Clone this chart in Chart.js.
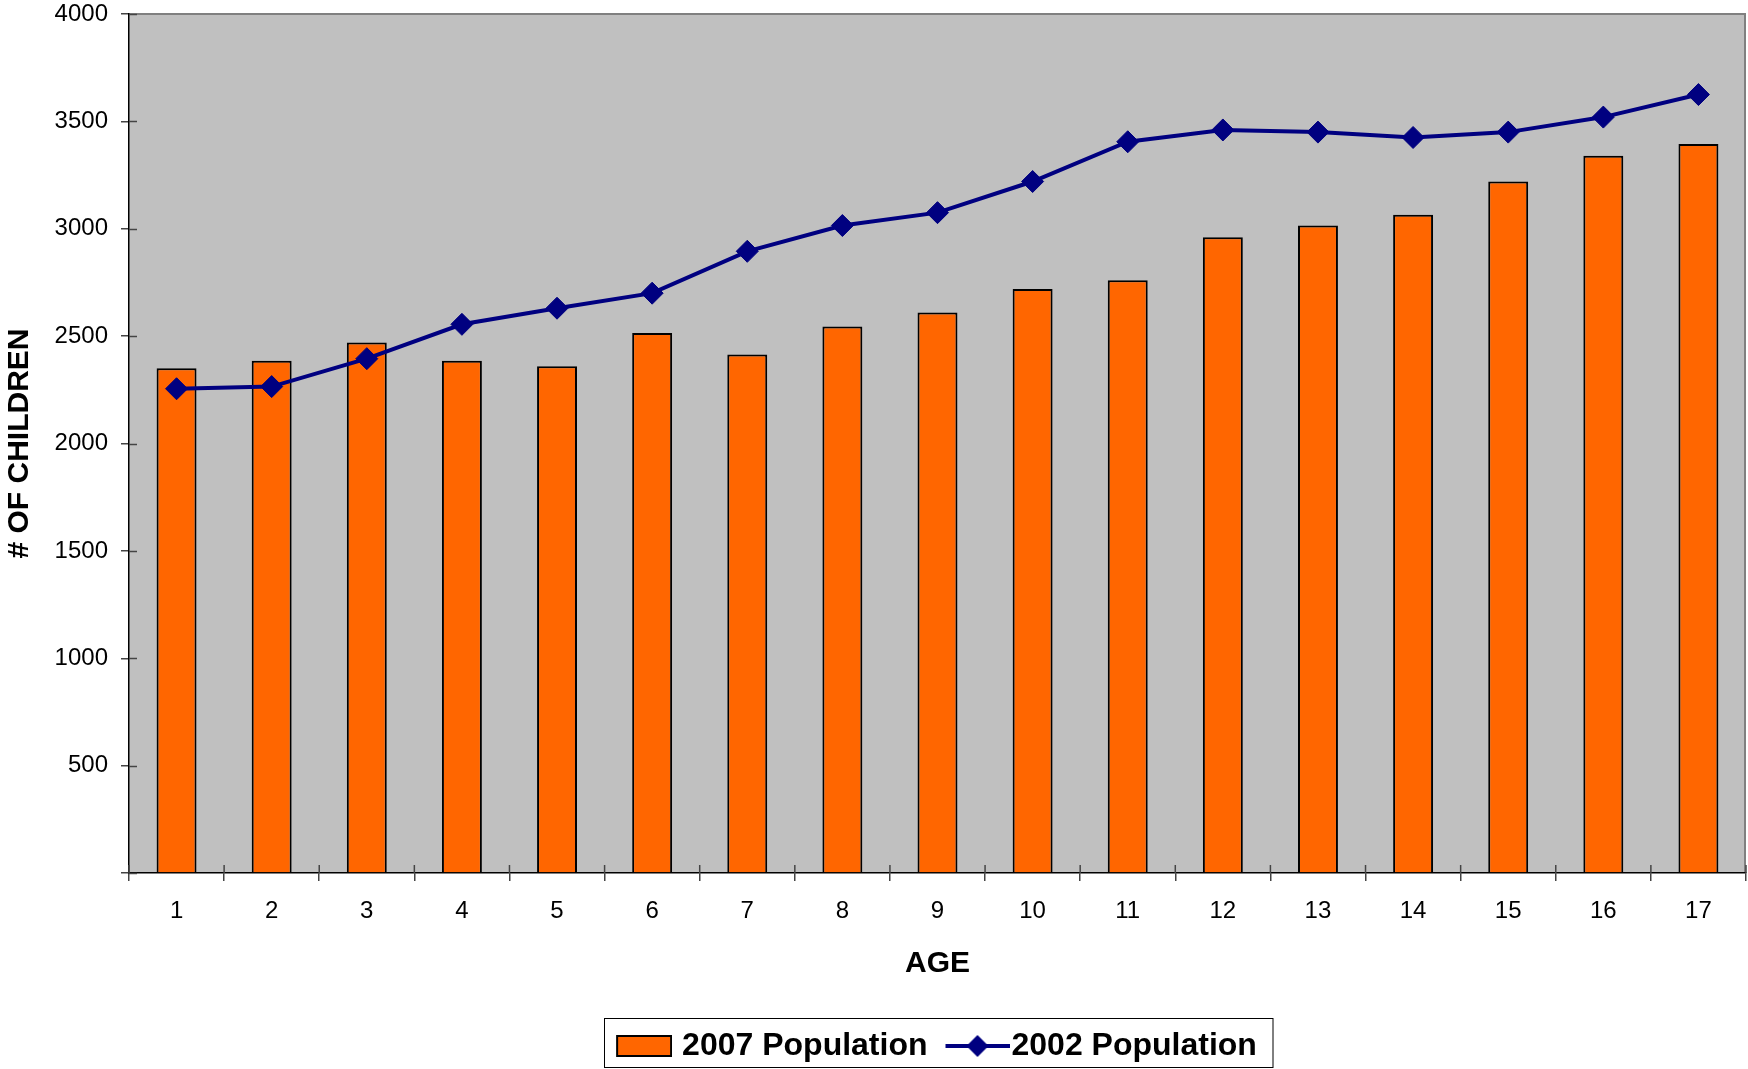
<!DOCTYPE html>
<html>
<head>
<meta charset="utf-8">
<script src="https://cdn.jsdelivr.net/npm/chart.js@4/dist/chart.umd.min.js"></script>
<style>
  html, body { margin: 0; padding: 0; background: #ffffff; }
  #wrap { width: 1748px; height: 1069px; }
</style>
</head>
<body>
<div id="wrap"><canvas id="c" width="1748" height="1069"></canvas></div>
<script>
// ---- data ----
const ages = ['1','2','3','4','5','6','7','8','9','10','11','12','13','14','15','16','17'];
const pop2007 = [2350, 2385, 2470, 2385, 2360, 2515, 2415, 2545, 2610, 2720, 2760, 2960, 3015, 3065, 3220, 3340, 3395];
const pop2002 = [2255, 2265, 2395, 2555, 2630, 2700, 2895, 3015, 3075, 3220, 3405, 3460, 3450, 3425, 3450, 3520, 3625];
const seriesNames = ['2007 Population', '2002 Population'];
const yTicks = { min: 0, max: 4000, step: 500 };

const ORANGE = '#FF6600';
const NAVY = '#000080';
const FONT = "'Liberation Sans', Arial, Helvetica, sans-serif";

// legend swatches (image centred on a 60px legend box)
function makeRectSwatch() {
  const c = document.createElement('canvas');
  c.width = 72; c.height = 22;
  const g = c.getContext('2d');
  g.fillStyle = ORANGE;
  g.fillRect(17, 1, 54, 20);
  g.strokeStyle = '#000';
  g.lineWidth = 2;
  g.strokeRect(17, 1, 54, 20);
  return c;
}
function makeLineSwatch() {
  const c = document.createElement('canvas');
  c.width = 88; c.height = 26;
  const g = c.getContext('2d');
  g.strokeStyle = NAVY;
  g.lineWidth = 4;
  g.beginPath(); g.moveTo(24, 13); g.lineTo(88, 13); g.stroke();
  g.fillStyle = NAVY;
  g.beginPath();
  const cx = 56;
  g.moveTo(cx, 2); g.lineTo(cx + 11, 13); g.lineTo(cx, 24); g.lineTo(cx - 11, 13); g.closePath();
  g.fill();
  return c;
}
const swatches = [makeRectSwatch(), makeLineSwatch()];
const LEGEND_SHIFT = { dx: -6, dy: 4 };

const plotBg = {
  id: 'plotBg',
  beforeDraw(chart) {
    const lg = chart.legend;
    if (lg && !lg._shifted) {
      lg._shifted = true;
      lg.left += LEGEND_SHIFT.dx; lg.right += LEGEND_SHIFT.dx;
      lg.top += LEGEND_SHIFT.dy; lg.bottom += LEGEND_SHIFT.dy;
      (lg.legendHitBoxes || []).forEach(h => { h.left += LEGEND_SHIFT.dx; h.top += LEGEND_SHIFT.dy; });
    }
    const a = chart.chartArea, ctx = chart.ctx;
    ctx.save();
    ctx.fillStyle = '#C0C0C0';
    ctx.fillRect(a.left, a.top, a.right - a.left, a.bottom - a.top);
    ctx.strokeStyle = '#808080';
    ctx.lineWidth = 2;
    ctx.beginPath();
    ctx.moveTo(a.left, a.top); ctx.lineTo(a.right - 1, a.top); ctx.lineTo(a.right - 1, a.bottom);
    ctx.stroke();
    ctx.restore();
  },
  afterDraw(chart) {
    const ctx = chart.ctx;
    const a = chart.chartArea;
    ctx.save();
    ctx.strokeStyle = '#444';
    ctx.lineWidth = 1.5;
    const ys = chart.scales.y;
    ys.ticks.forEach((t, i) => {
      const py = Math.round(ys.getPixelForTick(i)) + 0.5;
      ctx.beginPath(); ctx.moveTo(a.left, py); ctx.lineTo(a.left + 8, py); ctx.stroke();
    });
    const xs = chart.scales.x;
    for (let i = 0; i <= ages.length; i++) {
      const px = xs.getPixelForValue(i - 0.5);
      ctx.beginPath(); ctx.moveTo(px, a.bottom); ctx.lineTo(px, a.bottom - 8); ctx.stroke();
    }
    // legend border
    const lg = chart.legend;
    if (lg && lg.legendHitBoxes && lg.legendHitBoxes.length) {
      let l = Infinity, r = -Infinity, t = Infinity, b = -Infinity;
      lg.legendHitBoxes.forEach(h => {
        l = Math.min(l, h.left); r = Math.max(r, h.left + h.width);
        t = Math.min(t, h.top); b = Math.max(b, h.top + h.height);
      });
      ctx.strokeStyle = '#000';
      ctx.lineWidth = 1;
      const L = Math.round(l - 2) + 0.5, T = Math.round(t - 12) + 0.5;
      const B = Math.min(Math.round(b + 9), chart.height - 2) + 0.5;
      ctx.strokeRect(L, T, Math.round(r + 16) - L, B - T);
    }
    ctx.restore();
  }
};

new Chart(document.getElementById('c'), {
  data: {
    labels: ages,
    datasets: [
      {
        type: 'line',
        label: seriesNames[1],
        data: pop2002,
        borderColor: NAVY,
        backgroundColor: NAVY,
        borderWidth: 4,
        pointStyle: 'rectRot',
        pointRadius: 11,
        pointBorderWidth: 1,
        pointBackgroundColor: NAVY,
        pointBorderColor: NAVY,
        tension: 0,
        order: 0
      },
      {
        type: 'bar',
        label: seriesNames[0],
        data: pop2007,
        backgroundColor: ORANGE,
        borderColor: '#000000',
        borderWidth: 2,
        barPercentage: 0.42,
        categoryPercentage: 1.0,
        order: 1
      }
    ]
  },
  options: {
    responsive: false,
    animation: false,
    devicePixelRatio: 1,
    layout: { autoPadding: false, padding: { top: 14, right: 2, left: 0, bottom: 1 } },
    plugins: {
      tooltip: { enabled: false },
      legend: {
        position: 'bottom',
        fullSize: false,
        labels: {
          usePointStyle: true,
          pointStyleWidth: 60,
          padding: 8,
          color: '#000',
          font: { family: FONT, size: 32, weight: 'bold' },
          generateLabels() {
            return [0, 1].map(i => ({
              text: seriesNames[i],
              pointStyle: swatches[i],
              fillStyle: i === 0 ? ORANGE : NAVY,
              strokeStyle: i === 0 ? '#000' : NAVY,
              lineWidth: 0,
              hidden: false,
              datasetIndex: i === 0 ? 1 : 0
            }));
          }
        }
      }
    },
    scales: {
      x: {
        offset: true,
        grid: { display: true, offset: true, drawOnChartArea: false, drawTicks: true, tickLength: 8, color: '#444', lineWidth: 1.5 },
        border: { display: true, color: '#000', width: 1.5 },
        ticks: { color: '#000', font: { family: FONT, size: 24 }, padding: 16, maxRotation: 0 },
        title: { display: true, text: 'AGE', color: '#000', font: { family: FONT, size: 30, weight: 'bold' }, padding: { top: 0, bottom: 36 } },
        afterFit(scale) { scale.height = 145; scale.paddingLeft = 0; scale.paddingRight = 0; }
      },
      y: {
        min: yTicks.min,
        max: yTicks.max,
        grid: { display: true, drawOnChartArea: false, drawTicks: true, tickLength: 8, color: '#444', lineWidth: 1.5 },
        border: { display: true, color: '#000', width: 1.5 },
        ticks: {
          stepSize: yTicks.step,
          color: '#000',
          font: { family: FONT, size: 24 },
          padding: 13,
          callback: (v) => (v === 0 ? '' : String(v))
        },
        title: { display: true, text: '# OF CHILDREN', color: '#000', font: { family: FONT, size: 30, weight: 'bold' }, padding: { top: 2, bottom: 0 } },
        afterFit(scale) { scale.width = 129; scale.paddingTop = 0; scale.paddingBottom = 0; }
      }
    }
  },
  plugins: [plotBg]
});
</script>
</body>
</html>
